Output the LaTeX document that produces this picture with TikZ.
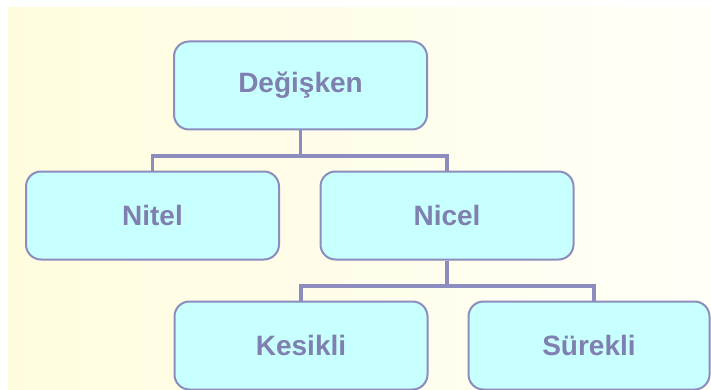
\documentclass[tikz,border=0pt]{standalone}
\usepackage{fontspec}
\setmainfont{Liberation Sans}
\usepackage{xcolor}
\definecolor{boxfill}{RGB}{200,255,255}
\definecolor{boxline}{RGB}{140,140,190}
\definecolor{boxtext}{RGB}{128,128,176}
\definecolor{paperleft}{RGB}{255,252,222}
\definecolor{paperright}{RGB}{255,255,248}
\tikzstyle{var box}=[
        draw = boxline,
        line width = 2pt,
        fill = boxfill,
        rounded corners = 15pt,
        minimum width = 253pt,
        minimum height = 88pt,
        text = boxtext,
        font = \fontsize{28}{32}\selectfont\bfseries
    ]
\tikzstyle{link}=[
    draw = boxline,
    line width = 3.5pt
]

\begin{document}
\begin{tikzpicture}[x=1pt, y=-1pt]
        \useasboundingbox (0,0) rectangle (711,390);
        \shade[left color=paperleft, right color=paperright] (8,8) rectangle (711,390);

        \node[var box] (degisken) at (300.5,85.5) {Değişken};
        \node[var box] (nitel) at (152.5,215.5) {Nitel};
        \node[var box] (nicel) at (447,215.5) {Nicel};
        \node[var box] (kesikli) at (301,345.5) {Kesikli};
        \node[var box, minimum width = 241pt] (surekli) at (589,345.5) {Sürekli};

        \coordinate (split top) at (300.5,156);
        \coordinate (split low) at (447,286);

        \draw[link] (degisken) -- (split top);
        \draw[link] (nitel) |- (split top) -| (nicel);
        \draw[link] (nicel) -- (split low);
        \draw[link] (kesikli) |- (split low) -| (594,302);

    \end{tikzpicture}
\end{document}
